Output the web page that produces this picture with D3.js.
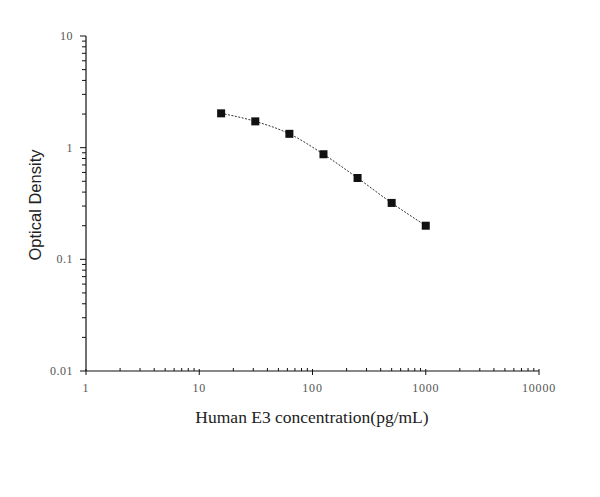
<!DOCTYPE html>
<html><head><meta charset="utf-8">
<script src="https://cdn.jsdelivr.net/npm/d3@7"></script>
<style>body{margin:0;background:#fff}svg{display:block}</style>
</head><body>
<svg id="c" width="600" height="497"></svg>
<script>
const concentrations = [15.6, 31.25, 62.5, 125, 250, 500, 1000];
const odValues = [2.03, 1.72, 1.33, 0.873, 0.535, 0.32, 0.20];
const xTickValues = [1, 10, 100, 1000, 10000];
const yTickValues = [0.01, 0.1, 1, 10];
const xTickLabels = ["1", "10", "100", "1000", "10000"];
const yTickLabels = ["0.01", "0.1", "1", "10"];
const xTitle = "Human E3 concentration(pg/mL)";
const yTitle = "Optical Density";

const svg = d3.select("#c");
const x = d3.scaleLog().domain([1, 10000]).range([86, 539]);
const y = d3.scaleLog().domain([0.01, 10]).range([371, 36]);

function minors(lo, hi) {
  const out = [];
  for (let d = lo; d < hi; d *= 10) for (let k = 2; k <= 9; k++) out.push(d * k);
  return out;
}

// X axis
const gx = svg.append("g").attr("transform", `translate(0,${y(0.01)})`);
gx.append("line").attr("x1", x(1)).attr("x2", x(10000)).attr("stroke", "#111").attr("stroke-width", 1.2);
gx.selectAll(".mj").data(xTickValues).join("line")
  .attr("x1", d => x(d)).attr("x2", d => x(d)).attr("y1", -2).attr("y2", 4)
  .attr("stroke", "#111").attr("stroke-width", 1);
gx.selectAll(".mn").data(minors(1, 10000)).join("line")
  .attr("x1", d => x(d)).attr("x2", d => x(d)).attr("y1", 0).attr("y2", -3)
  .attr("stroke", "#111").attr("stroke-width", 1);
gx.selectAll("text").data(xTickValues).join("text")
  .attr("x", d => x(d)).attr("y", 21).attr("text-anchor", "middle")
  .attr("font-family", "Liberation Serif, serif").attr("font-size", 12).attr("letter-spacing", 0.8).attr("fill", "#555")
  .text((d, i) => xTickLabels[i]);

// Y axis
const gy = svg.append("g").attr("transform", `translate(${x(1)},0)`);
gy.append("line").attr("y1", y(0.01)).attr("y2", y(10)).attr("stroke", "#111").attr("stroke-width", 1.2);
gy.selectAll(".mj").data(yTickValues).join("line")
  .attr("y1", d => y(d)).attr("y2", d => y(d)).attr("x1", 0).attr("x2", -6)
  .attr("stroke", "#111").attr("stroke-width", 1);
gy.selectAll(".mn").data(minors(0.01, 10)).join("line")
  .attr("y1", d => y(d)).attr("y2", d => y(d)).attr("x1", 0).attr("x2", -4)
  .attr("stroke", "#111").attr("stroke-width", 1);
gy.selectAll("text").data(yTickValues).join("text")
  .attr("x", -13).attr("y", d => y(d) + 4).attr("text-anchor", "end")
  .attr("font-family", "Liberation Serif, serif").attr("font-size", 12).attr("letter-spacing", 0.5).attr("fill", "#555")
  .text((d, i) => yTickLabels[i]);

// Titles
svg.append("text").attr("x", 312).attr("y", 423).attr("text-anchor", "middle")
  .attr("font-family", "Liberation Serif, serif").attr("font-size", 17.5).attr("fill", "#222")
  .text(xTitle);
svg.append("text").attr("transform", "translate(41,205) rotate(-90)").attr("text-anchor", "middle")
  .attr("font-family", "Liberation Sans, Arial, sans-serif").attr("font-size", 16.5).attr("fill", "#222")
  .text(yTitle);

// Data line
const pts = concentrations.map((c, i) => [c, odValues[i]]);
svg.append("path").datum(pts)
  .attr("d", d3.line().x(d => x(d[0])).y(d => y(d[1])).curve(d3.curveMonotoneX))
  .attr("fill", "none").attr("stroke", "#333").attr("stroke-width", 1).attr("stroke-dasharray", "2,1.5");
svg.selectAll(".pt").data(pts).join("rect")
  .attr("x", d => x(d[0]) - 4).attr("y", d => y(d[1]) - 4)
  .attr("width", 8).attr("height", 8).attr("fill", "#111");
</script>
</body></html>
